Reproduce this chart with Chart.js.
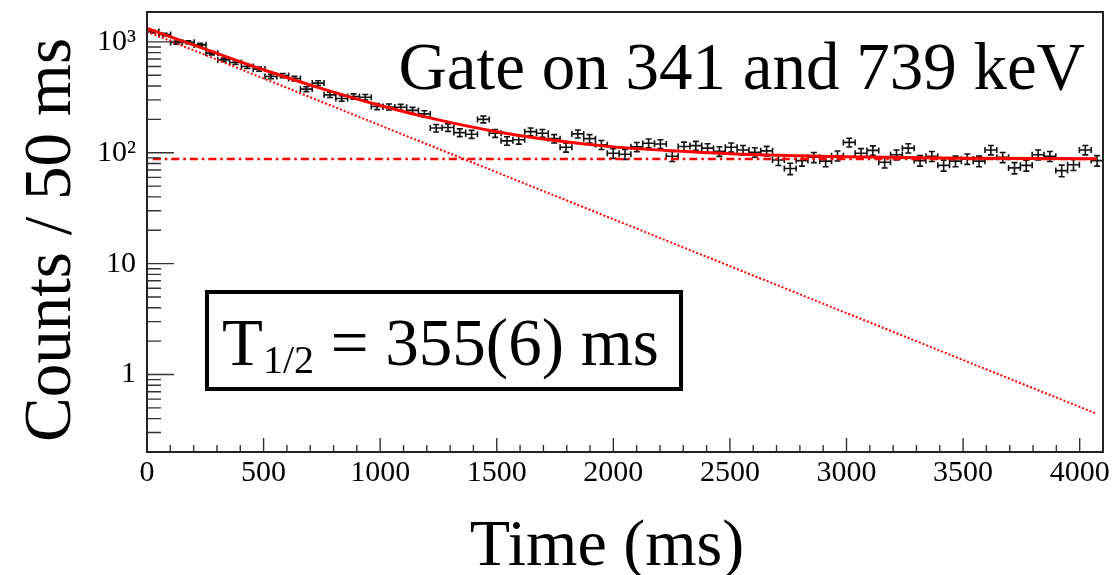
<!DOCTYPE html>
<html>
<head>
<meta charset="utf-8">
<title>Gate on 341 and 739 keV</title>
<script src="https://cdn.jsdelivr.net/npm/chart.js@4.4.1/dist/chart.umd.min.js"></script>
<style>
  html, body { margin: 0; padding: 0; background: #fff; }
  #wrap { width: 1117px; height: 575px; position: relative; }
</style>
</head>
<body>
<div id="wrap"><canvas id="decayChart"></canvas></div>
<script>
// --- Histogram: 81 bins between 0 and 4100 ms ---
const X_MIN = 0;
const X_MAX = 4100;
const N_BINS = 81;

// counts per bin
const counts = [
  1238, 1164, 986, 993, 939, 791, 688, 651, 600, 568,
  487, 497, 467, 375, 425, 333, 309, 322, 317, 261,
  259, 257, 241, 224, 167, 169, 152, 147, 200, 150,
  128, 131, 155, 150, 134, 112, 148, 134, 118, 99,
  97, 113, 122, 120, 93, 114, 116, 110, 103, 112,
  106, 101, 104, 86, 72, 85, 91, 84, 94, 124,
  99, 105, 82, 96, 110, 85, 93, 77, 84, 88,
  84, 106, 91, 73, 77, 96, 93, 69, 78, 106, 85
];

// total fit curve (solid red)
const fitTimes  = [0, 250, 500, 750, 1000, 1250, 1500, 1750, 2000, 2250, 2500, 3000, 3500, 4070];
const fitCounts = [1320, 859, 561, 379, 267, 198, 155, 129, 113, 104, 98, 92, 89, 88.5];

// decay component (dotted red) - straight on a log axis
const decayTimes  = [0, 4070];
const decayCounts = [1240, 0.445];

// constant background (dash-dot red)
const bgTimes  = [25, 4075];
const bgCounts = [88, 88];

// axis ticks
const xTicks = [0, 500, 1000, 1500, 2000, 2500, 3000, 3500, 4000];
const yTicks = [1, 10, 100, 1000];
const yTickLabels = ['1', '10', '10\u00B2', '10\u00B3'];

const SERIF = '"Liberation Serif", "Times New Roman", serif';
const RED = '#ff0000';

const binWidth = (X_MAX - X_MIN) / N_BINS;
const binCenters = counts.map((c, i) => X_MIN + (i + 0.5) * binWidth);

function toPoints(xs, ys) {
    return xs.map((x, i) => ({ x: x, y: ys[i] }));
}

// keep the plot frame exactly where the layout padding puts it
function noScalePadding(scale) {
    scale.paddingTop = 0;
    scale.paddingBottom = 0;
    scale.paddingLeft = 0;
    scale.paddingRight = 0;
}

// --- Plugins ---

// error bars (ROOT "E1" style: cross with small end caps)
const errorBars = {
    id: 'errorBars',
    beforeDatasetsDraw(chart) {
        const { ctx, scales: { x, y } } = chart;
        const cap = 3;
        ctx.save();
        ctx.strokeStyle = '#111';
        ctx.lineWidth = 1.6;
        ctx.beginPath();
        binCenters.forEach((t, i) => {
            const c = counts[i];
            const err = Math.sqrt(c);
            const px = x.getPixelForValue(t);
            const py = y.getPixelForValue(c);
            const xl = x.getPixelForValue(t - binWidth / 2);
            const xr = x.getPixelForValue(t + binWidth / 2);
            const yt = y.getPixelForValue(c + err);
            const yb = y.getPixelForValue(c - err);
            // horizontal bar + caps
            ctx.moveTo(xl, py); ctx.lineTo(xr, py);
            ctx.moveTo(xl, py - cap); ctx.lineTo(xl, py + cap);
            ctx.moveTo(xr, py - cap); ctx.lineTo(xr, py + cap);
            // vertical bar + caps
            ctx.moveTo(px, yt); ctx.lineTo(px, yb);
            ctx.moveTo(px - cap, yt); ctx.lineTo(px + cap, yt);
            ctx.moveTo(px - cap, yb); ctx.lineTo(px + cap, yb);
        });
        ctx.stroke();
        ctx.restore();
    }
};

// frame and inward ticks
const frameTicks = {
    id: 'frameTicks',
    afterDatasetsDraw(chart) {
        const { ctx, chartArea: a, scales: { x, y } } = chart;
        ctx.save();
        ctx.strokeStyle = '#333';
        ctx.lineWidth = 1.4;
        ctx.beginPath();
        for (let t = X_MIN; t <= X_MAX; t += 100) {
            const px = x.getPixelForValue(t);
            const len = (t % 500 === 0) ? 14 : 7;
            ctx.moveTo(px, a.bottom);
            ctx.lineTo(px, a.bottom - len);
        }
        [0.1, 1, 10, 100, 1000].forEach(d => {
            for (let m = 1; m < 10; m++) {
                const v = m * d;
                if (v < y.min || v > y.max) continue;
                const py = y.getPixelForValue(v);
                const len = (m === 1) ? 27 : 14;
                ctx.moveTo(a.left, py);
                ctx.lineTo(a.left + len, py);
            }
        });
        ctx.stroke();

        ctx.strokeStyle = '#222';
        ctx.lineWidth = 2;
        ctx.strokeRect(a.left, a.top, a.right - a.left, a.bottom - a.top);
        ctx.restore();
    }
};

// titles and annotations
const labels = {
    id: 'labels',
    afterDraw(chart) {
        const ctx = chart.ctx;
        ctx.save();
        ctx.fillStyle = '#000';
        ctx.textBaseline = 'alphabetic';

        // header text
        ctx.font = '67px ' + SERIF;
        ctx.textAlign = 'right';
        ctx.fillText('Gate on 341 and 739 keV', 1085, 89);

        // x axis title
        ctx.font = '66px ' + SERIF;
        ctx.textAlign = 'center';
        ctx.fillText('Time (ms)', 607, 565);

        // y axis title
        ctx.save();
        ctx.translate(70, 240);
        ctx.rotate(-Math.PI / 2);
        ctx.font = '67px ' + SERIF;
        ctx.fillText('Counts / 50 ms', 0, 0);
        ctx.restore();

        // half-life box
        ctx.strokeStyle = '#000';
        ctx.lineWidth = 4;
        ctx.strokeRect(207, 292, 474, 97);

        ctx.textAlign = 'left';
        let xPos = 222;
        ctx.font = '67px ' + SERIF;
        ctx.fillText('T', xPos, 365);
        xPos += ctx.measureText('T').width;
        ctx.font = '40px ' + SERIF;
        ctx.fillText('1/2', xPos, 373);
        xPos += ctx.measureText('1/2').width;
        ctx.font = '67px ' + SERIF;
        ctx.fillText(' = 355(6) ms', xPos, 365);

        ctx.restore();
    }
};

// --- Chart ---
const chart = new Chart(document.getElementById('decayChart'), {
    type: 'scatter',
    data: {
        datasets: [
            {
                label: 'Data',
                data: toPoints(binCenters, counts),
                pointRadius: 0,
                showLine: false
            },
            {
                label: 'Fit',
                data: toPoints(fitTimes, fitCounts),
                showLine: true,
                borderColor: RED,
                borderWidth: 3,
                pointRadius: 0,
                cubicInterpolationMode: 'monotone'
            },
            {
                label: 'Decay',
                data: toPoints(decayTimes, decayCounts),
                showLine: true,
                borderColor: RED,
                borderWidth: 2,
                borderDash: [2, 2],
                pointRadius: 0
            },
            {
                label: 'Background',
                data: toPoints(bgTimes, bgCounts),
                showLine: true,
                borderColor: RED,
                borderWidth: 2.5,
                borderDash: [8, 4, 2.5, 4],
                pointRadius: 0
            }
        ]
    },
    options: {
        responsive: true,
        maintainAspectRatio: false,
        animation: false,
        layout: {
            autoPadding: false,
            padding: { top: 12, right: 14, left: 0, bottom: 0 }
        },
        plugins: {
            legend: { display: false },
            tooltip: { enabled: false }
        },
        scales: {
            x: {
                type: 'linear',
                min: X_MIN,
                max: X_MAX,
                bounds: 'data',
                afterBuildTicks: scale => { scale.ticks = xTicks.map(v => ({ value: v })); },
                afterFit: scale => { scale.height = 123; noScalePadding(scale); },
                grid: { display: false, drawTicks: false },
                border: { display: false },
                ticks: {
                    autoSkip: false,
                    maxRotation: 0,
                    padding: 3,
                    color: '#000',
                    font: { family: SERIF, size: 30 },
                    callback: value => String(value)
                }
            },
            y: {
                type: 'logarithmic',
                min: 0.2,
                max: 1860,
                bounds: 'data',
                afterBuildTicks: scale => { scale.ticks = yTicks.map(v => ({ value: v })); },
                afterFit: scale => { scale.width = 147; noScalePadding(scale); },
                grid: { display: false, drawTicks: false },
                border: { display: false },
                ticks: {
                    autoSkip: false,
                    padding: 11,
                    color: '#000',
                    font: { family: SERIF, size: 30 },
                    callback: value => {
                        const i = yTicks.indexOf(value);
                        return i >= 0 ? yTickLabels[i] : '';
                    }
                }
            }
        }
    },
    plugins: [errorBars, frameTicks, labels]
});
</script>
</body>
</html>
